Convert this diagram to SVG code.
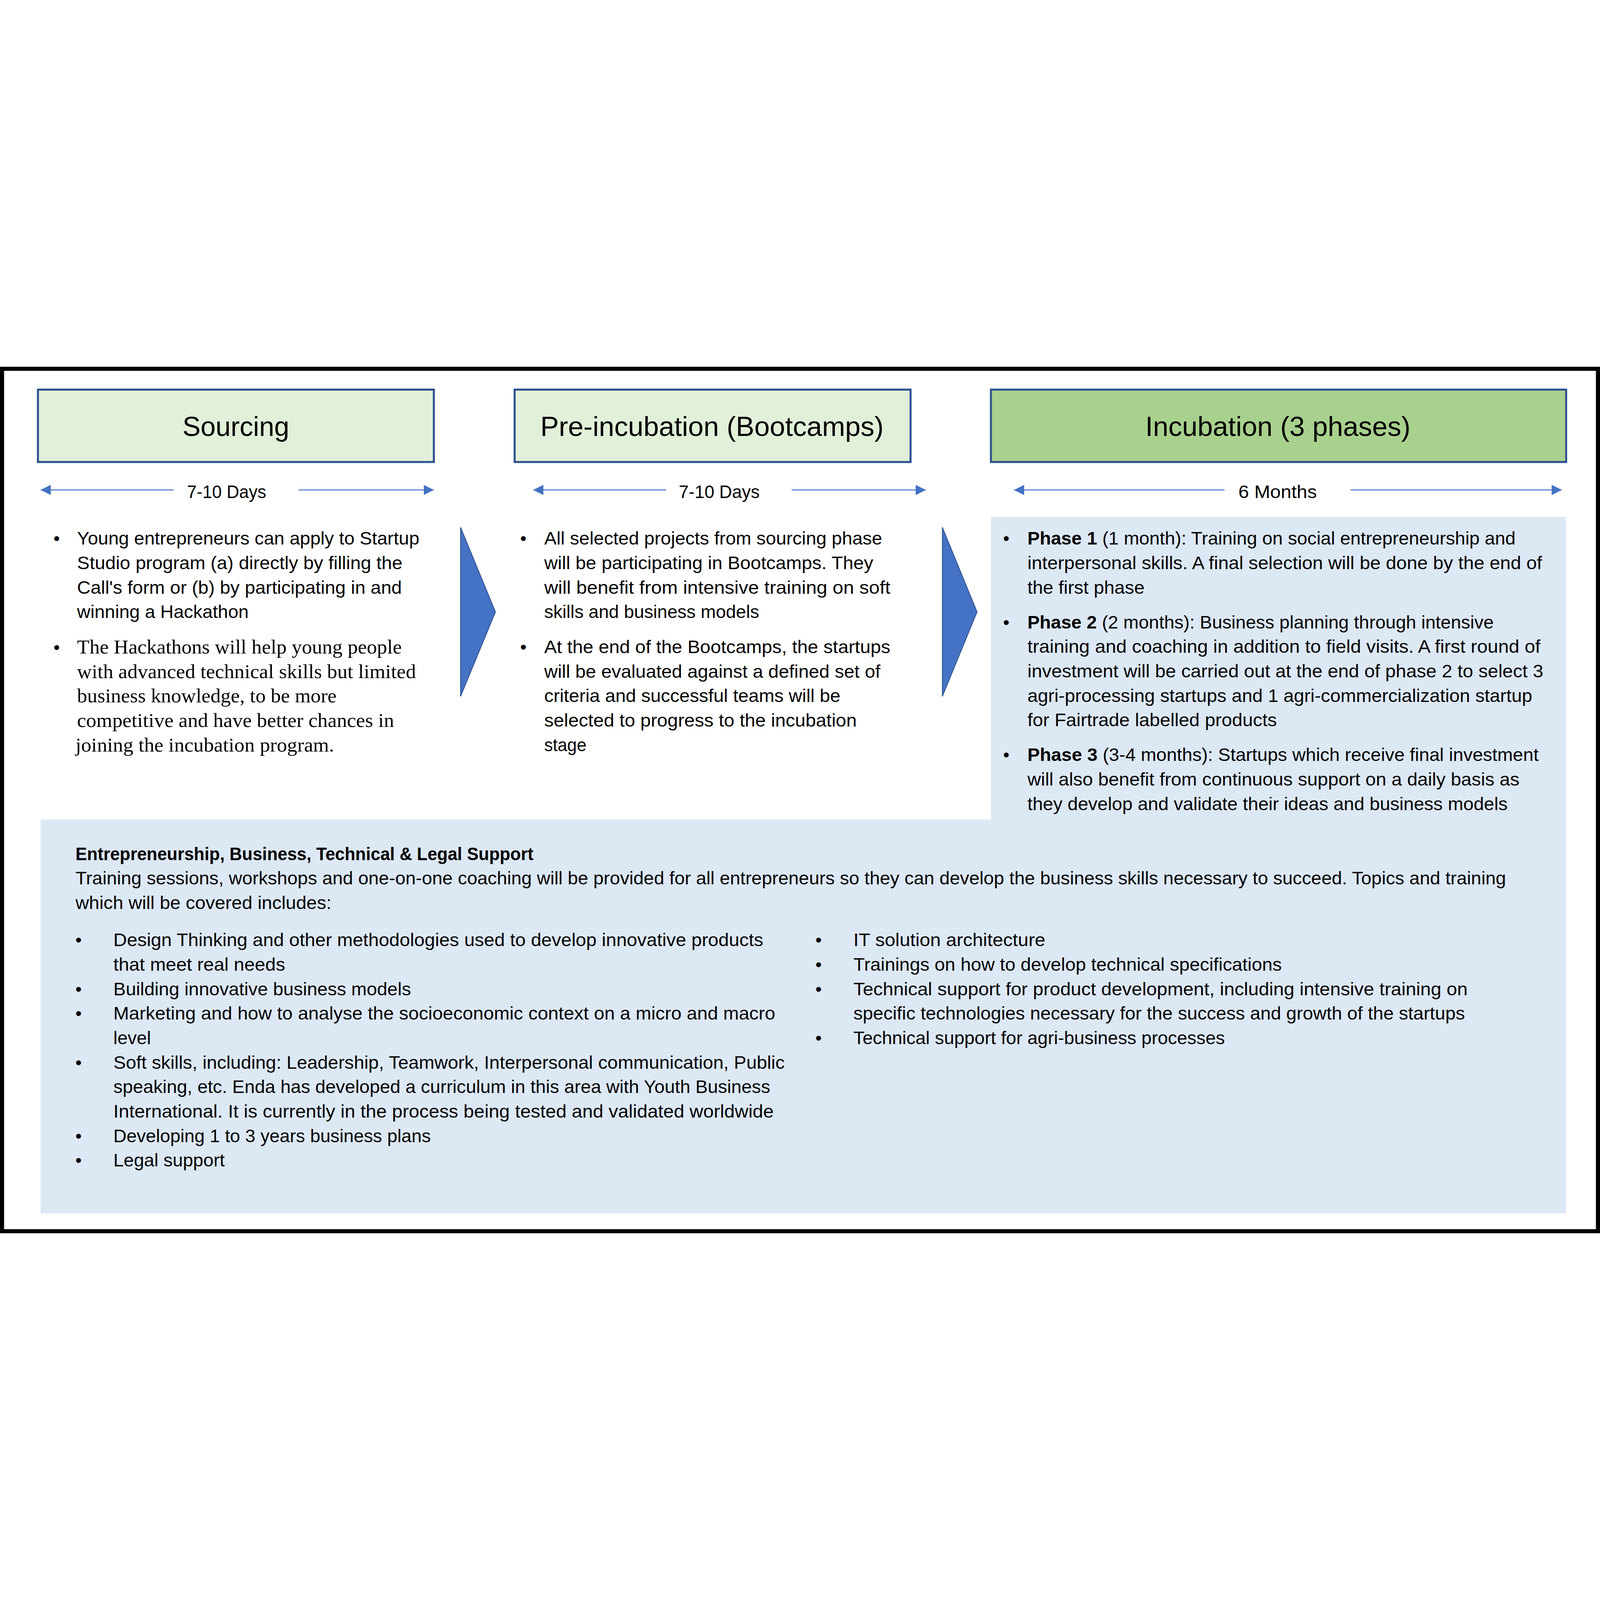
<svg xmlns="http://www.w3.org/2000/svg" width="7844" height="4248" viewBox="0 0 7844 4248">
<style>
svg{width:100vw;height:100vh}
.hdr{stroke:#2F528F;stroke-width:10}
.lg{fill:#E2F0D9}
.dg{fill:#A9D18E}
.t{font-family:'Liberation Sans',Arial,sans-serif;font-size:88px;fill:#000}
.s{font-family:'Liberation Serif','Times New Roman',serif;font-size:96px;fill:#000}
.ttl{font-family:'Liberation Sans',Arial,sans-serif;font-size:134px;fill:#000}
.b{font-weight:bold}
.bul{font-family:'Liberation Sans',Arial,sans-serif;font-size:88px;fill:#000;text-anchor:middle}
.dl{stroke:#4472C4;stroke-width:5;fill:none;marker-end:url(#ah)}
.chev{fill:#4472C4;stroke:#2F528F;stroke-width:4}
</style>
<defs>
<marker id="ah" markerUnits="userSpaceOnUse" markerWidth="50" markerHeight="50" refX="50" refY="25" orient="auto" viewBox="0 0 50 50">
<path d="M0,0 L50,25 L0,50 Z" fill="#4472C4"/>
</marker>
</defs>
<rect x="0" y="0" width="7844" height="4248" fill="#fff"/>

<g id="support-bg">
<path d="M4858,736 H7677 V4150 H199 V2220 H4858 Z" fill="#DDE8F5"/>
</g>

<g id="sourcing">
<rect class="hdr lg" x="186" y="112" width="1941" height="355"/>
<text class="ttl" x="895" y="339" textLength="523" lengthAdjust="spacingAndGlyphs">Sourcing</text>
</g>
<g id="pre-incubation">
<rect class="hdr lg" x="2523" y="112" width="1941" height="355"/>
<text class="ttl" x="2649" y="339" textLength="1683" lengthAdjust="spacingAndGlyphs">Pre-incubation (Bootcamps)</text>
</g>
<g id="incubation">
<rect class="hdr dg" x="4858" y="112" width="2820" height="355"/>
<text class="ttl" x="5615" y="339" textLength="1300" lengthAdjust="spacingAndGlyphs">Incubation (3 phases)</text>
</g>

<g id="durations">
<line class="dl" x1="851" y1="604" x2="199" y2="604"/>
<line class="dl" x1="1464" y1="604" x2="2127" y2="604"/>
<text class="t" x="917" y="644" textLength="388" lengthAdjust="spacingAndGlyphs">7-10 Days</text>
<line class="dl" x1="3265" y1="604" x2="2614" y2="604"/>
<line class="dl" x1="3881" y1="604" x2="4539" y2="604"/>
<text class="t" x="3328" y="644" textLength="396" lengthAdjust="spacingAndGlyphs">7-10 Days</text>
<line class="dl" x1="6003" y1="604" x2="4971" y2="604"/>
<line class="dl" x1="6621" y1="604" x2="7657" y2="604"/>
<text class="t" x="6071" y="644" textLength="385" lengthAdjust="spacingAndGlyphs">6 Months</text>
</g>

<g id="sourcing-text">
<text class="bul" x="278" y="872">•</text>
<text class="t" x="378" y="872" textLength="1678" lengthAdjust="spacingAndGlyphs">Young entrepreneurs can apply to Startup</text>
<text class="t" x="378" y="992" textLength="1595" lengthAdjust="spacingAndGlyphs">Studio program (a) directly by filling the</text>
<text class="t" x="378" y="1112" textLength="1592" lengthAdjust="spacingAndGlyphs">Call's form or (b) by participating in and</text>
<text class="t" x="378" y="1232" textLength="841" lengthAdjust="spacingAndGlyphs">winning a Hackathon</text>
<text class="bul" x="278" y="1406">•</text>
<text class="s" x="378" y="1406" textLength="1592" lengthAdjust="spacingAndGlyphs">The Hackathons will help young people</text>
<text class="s" x="378" y="1526" textLength="1661" lengthAdjust="spacingAndGlyphs">with advanced technical skills but limited</text>
<text class="s" x="378" y="1646" textLength="1272" lengthAdjust="spacingAndGlyphs">business knowledge, to be more</text>
<text class="s" x="378" y="1766" textLength="1554" lengthAdjust="spacingAndGlyphs">competitive and have better chances in</text>
<text class="s" x="370" y="1886" textLength="1268" lengthAdjust="spacingAndGlyphs">joining the incubation program.</text>
</g>

<g id="pre-incubation-text">
<text class="bul" x="2566" y="872">•</text>
<text class="t" x="2668" y="872" textLength="1657" lengthAdjust="spacingAndGlyphs">All selected projects from sourcing phase</text>
<text class="t" x="2668" y="992" textLength="1613" lengthAdjust="spacingAndGlyphs">will be participating in Bootcamps. They</text>
<text class="t" x="2668" y="1112" textLength="1697" lengthAdjust="spacingAndGlyphs">will benefit from intensive training on soft</text>
<text class="t" x="2668" y="1232" textLength="1054" lengthAdjust="spacingAndGlyphs">skills and business models</text>
<text class="bul" x="2566" y="1404">•</text>
<text class="t" x="2668" y="1404" textLength="1697" lengthAdjust="spacingAndGlyphs">At the end of the Bootcamps, the startups</text>
<text class="t" x="2668" y="1524" textLength="1648" lengthAdjust="spacingAndGlyphs">will be evaluated against a defined set of</text>
<text class="t" x="2668" y="1644" textLength="1452" lengthAdjust="spacingAndGlyphs">criteria and successful teams will be</text>
<text class="t" x="2668" y="1764" textLength="1532" lengthAdjust="spacingAndGlyphs">selected to progress to the incubation</text>
<text class="t" x="2668" y="1884" textLength="207" lengthAdjust="spacingAndGlyphs">stage</text>
</g>

<g id="incubation-text">
<text class="bul" x="4933" y="872">•</text>
<text class="t" x="5037" y="872" textLength="2393" lengthAdjust="spacingAndGlyphs"><tspan class="b">Phase 1</tspan> (1 month): Training on social entrepreneurship and</text>
<text class="t" x="5037" y="992" textLength="2523" lengthAdjust="spacingAndGlyphs">interpersonal skills. A final selection will be done by the end of</text>
<text class="t" x="5037" y="1112" textLength="574" lengthAdjust="spacingAndGlyphs">the first phase</text>
<text class="bul" x="4933" y="1283">•</text>
<text class="t" x="5037" y="1283" textLength="2286" lengthAdjust="spacingAndGlyphs"><tspan class="b">Phase 2</tspan> (2 months): Business planning through intensive</text>
<text class="t" x="5037" y="1403" textLength="2515" lengthAdjust="spacingAndGlyphs">training and coaching in addition to field visits. A first round of</text>
<text class="t" x="5037" y="1523" textLength="2529" lengthAdjust="spacingAndGlyphs">investment will be carried out at the end of phase 2 to select 3</text>
<text class="t" x="5037" y="1643" textLength="2475" lengthAdjust="spacingAndGlyphs">agri-processing startups and 1 agri-commercialization startup</text>
<text class="t" x="5037" y="1763" textLength="1223" lengthAdjust="spacingAndGlyphs">for Fairtrade labelled products</text>
<text class="bul" x="4933" y="1933">•</text>
<text class="t" x="5037" y="1933" textLength="2506" lengthAdjust="spacingAndGlyphs"><tspan class="b">Phase 3</tspan> (3-4 months): Startups which receive final investment</text>
<text class="t" x="5037" y="2053" textLength="2412" lengthAdjust="spacingAndGlyphs">will also benefit from continuous support on a daily basis as</text>
<text class="t" x="5037" y="2173" textLength="2354" lengthAdjust="spacingAndGlyphs">they develop and validate their ideas and business models</text>
</g>

<g id="support">
<text class="t b" x="370" y="2418" textLength="2245" lengthAdjust="spacingAndGlyphs">Entrepreneurship, Business, Technical &amp; Legal Support</text>
<text class="t" x="370" y="2538" textLength="7013" lengthAdjust="spacingAndGlyphs">Training sessions, workshops and one-on-one coaching will be provided for all entrepreneurs so they can develop the business skills necessary to succeed. Topics and training</text>
<text class="t" x="370" y="2658" textLength="1255" lengthAdjust="spacingAndGlyphs">which will be covered includes:</text>

<text class="bul" x="385" y="2841">•</text>
<text class="t" x="556" y="2841" textLength="3186" lengthAdjust="spacingAndGlyphs">Design Thinking and other methodologies used to develop innovative products</text>
<text class="t" x="556" y="2961" textLength="842" lengthAdjust="spacingAndGlyphs">that meet real needs</text>
<text class="bul" x="385" y="3081">•</text>
<text class="t" x="556" y="3081" textLength="1459" lengthAdjust="spacingAndGlyphs">Building innovative business models</text>
<text class="bul" x="385" y="3201">•</text>
<text class="t" x="556" y="3201" textLength="3245" lengthAdjust="spacingAndGlyphs">Marketing and how to analyse the socioeconomic context on a micro and macro</text>
<text class="t" x="556" y="3321" textLength="184" lengthAdjust="spacingAndGlyphs">level</text>
<text class="bul" x="385" y="3441">•</text>
<text class="t" x="556" y="3441" textLength="3291" lengthAdjust="spacingAndGlyphs">Soft skills, including: Leadership, Teamwork, Interpersonal communication, Public</text>
<text class="t" x="556" y="3561" textLength="3220" lengthAdjust="spacingAndGlyphs">speaking, etc. Enda has developed a curriculum in this area with Youth Business</text>
<text class="t" x="556" y="3681" textLength="3237" lengthAdjust="spacingAndGlyphs">International. It is currently in the process being tested and validated worldwide</text>
<text class="bul" x="385" y="3801">•</text>
<text class="t" x="556" y="3801" textLength="1556" lengthAdjust="spacingAndGlyphs">Developing 1 to 3 years business plans</text>
<text class="bul" x="385" y="3921">•</text>
<text class="t" x="556" y="3921" textLength="546" lengthAdjust="spacingAndGlyphs">Legal support</text>

<text class="bul" x="4013" y="2841">•</text>
<text class="t" x="4184" y="2841" textLength="941" lengthAdjust="spacingAndGlyphs">IT solution architecture</text>
<text class="bul" x="4013" y="2961">•</text>
<text class="t" x="4184" y="2961" textLength="2100" lengthAdjust="spacingAndGlyphs">Trainings on how to develop technical specifications</text>
<text class="bul" x="4013" y="3081">•</text>
<text class="t" x="4184" y="3081" textLength="3011" lengthAdjust="spacingAndGlyphs">Technical support for product development, including intensive training on</text>
<text class="t" x="4184" y="3201" textLength="2998" lengthAdjust="spacingAndGlyphs">specific technologies necessary for the success and growth of the startups</text>
<text class="bul" x="4013" y="3321">•</text>
<text class="t" x="4184" y="3321" textLength="1821" lengthAdjust="spacingAndGlyphs">Technical support for agri-business processes</text>
</g>

<g id="connectors">
<polygon class="chev" points="2258,787 2429,1202 2258,1616"/>
<polygon class="chev" points="4620,787 4790,1202 4620,1616"/>
</g>

<rect x="10" y="10" width="7824" height="4228" fill="none" stroke="#000" stroke-width="20"/>
</svg>
